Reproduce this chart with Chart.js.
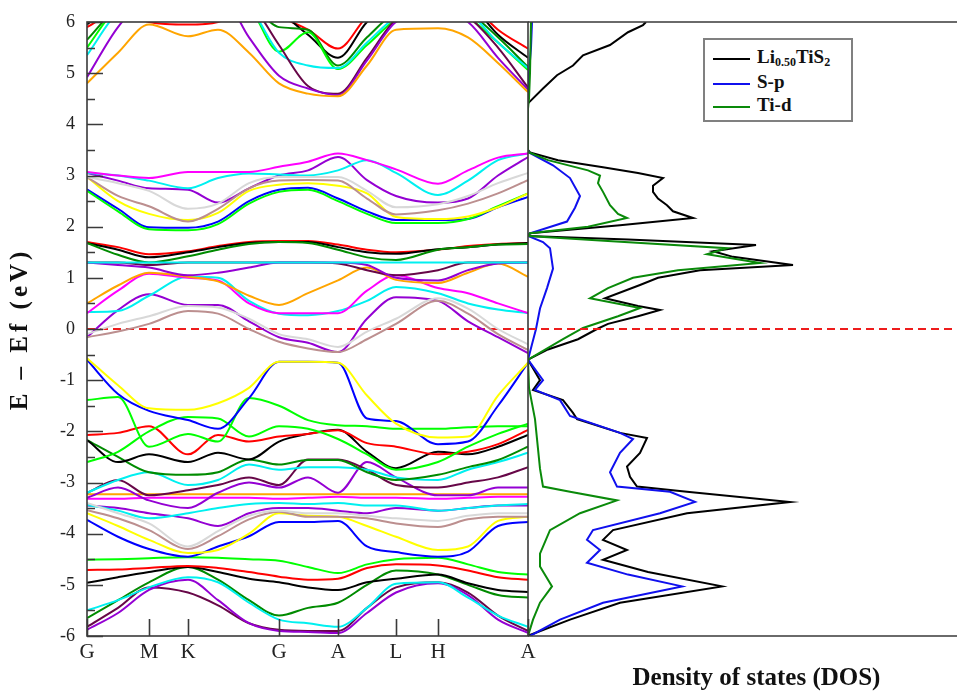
<!DOCTYPE html>
<html><head><meta charset="utf-8">
<script src="https://cdn.jsdelivr.net/npm/chart.js@4.4.0/dist/chart.umd.min.js"></script>
<style>
html,body{margin:0;padding:0;background:#fff;overflow:hidden;}
#wrap{position:relative;width:957px;height:691px;overflow:hidden;background:#fff;}
#bands{position:absolute;left:0;top:0;}
#dos{position:absolute;left:520px;top:0;}
#legend{position:absolute;left:703px;top:38px;width:146px;height:80px;border:2px solid #808080;background:#fff;font-family:"Liberation Serif",serif;font-weight:bold;font-size:19px;color:#111;}
.row{position:absolute;left:8px;height:20px;line-height:20px;white-space:nowrap;}
.sw{display:inline-block;width:37px;height:0;border-top:2.5px solid #000;vertical-align:middle;margin-right:7px;}
sub{font-size:12px;vertical-align:-3px;line-height:0;}
</style></head>
<body>
<div id="wrap">
<canvas id="dos" width="465" height="691"></canvas>
<canvas id="bands" width="540" height="691"></canvas>
<div id="legend">
 <div class="row" style="top:7px"><span class="sw" style="border-color:#000"></span>Li<sub>0.50</sub>TiS<sub>2</sub></div>
 <div class="row" style="top:32px"><span class="sw" style="border-color:#1010ee"></span>S-p</div>
 <div class="row" style="top:55px"><span class="sw" style="border-color:#0a8a0a"></span>Ti-d</div>
</div>
</div>
<script>
// ---------- k-path ----------
const kLabels = ['G','M','K','G','A','L','H','A'];
const kTicks  = [0, 62, 101, 192, 251, 309, 351, 441];
const kPath   = [0, 31, 62, 101, 131, 162, 192, 221, 251, 280, 309, 351, 381, 411, 441];
const yTickValues = [6,5,4,3,2,1,0,-1,-2,-3,-4,-5,-6];

// ---------- band energies (eV) at kPath ----------
const orangeHi  = [4.8, 5.4, 5.95, 5.72, 5.85, 5.4, 4.8, 4.6, 4.55, 5.15, 5.85, 5.88, 5.7, 5.2, 4.63];
const violetHi  = [4.92, 5.9, 6.5, 6.6, 6.6, 5.7, 4.95, 4.7, 4.57, 5.25, 6.0, 6.2, 6.0, 5.3, 4.68];
const maroonHi  = [6.4, 6.6, 6.6, 6.6, 6.6, 6.4, 5.55, 4.75, 4.6, 5.3, 6.05, 6.3, 6.1, 5.5, 4.72];
const cyanHi    = [5.35, 6.2, 6.5, 6.5, 6.5, 6.3, 5.4, 5.15, 5.1, 5.6, 6.1, 6.4, 6.2, 5.6, 5.1];
const greenHi   = [5.5, 6.3, 6.5, 6.5, 6.5, 6.3, 5.42, 5.8, 5.08, 5.55, 6.05, 6.4, 6.1, 5.6, 5.06];
const dkgreenHi = [5.65, 6.3, 6.6, 6.6, 6.6, 6.4, 5.9, 5.85, 5.15, 5.7, 6.2, 6.4, 6.2, 5.7, 5.12];
const blackHi   = [5.95, 6.4, 6.6, 6.6, 6.6, 6.5, 6.2, 5.75, 5.3, 6.0, 6.4, 6.6, 6.4, 5.75, 5.3];
const redHi     = [5.9, 6.2, 6.0, 5.95, 6.0, 6.3, 6.1, 5.85, 5.48, 6.1, 6.4, 6.6, 6.4, 5.85, 5.48];

const magentaMid = [3.07, 3.0, 2.95, 3.07, 3.07, 3.07, 3.17, 3.27, 3.43, 3.3, 3.12, 2.84, 3.1, 3.35, 3.43];
const cyanMid    = [3.05, 3.0, 2.9, 2.75, 2.95, 3.04, 3.02, 3.0, 3.1, 3.3, 3.05, 2.62, 2.9, 3.3, 3.43];
const yellowMid  = [2.97, 2.5, 2.25, 2.13, 2.27, 2.7, 2.82, 2.85, 2.8, 2.65, 2.19, 2.15, 2.2, 2.38, 2.65];
const blueMid    = [2.73, 2.35, 1.99, 1.98, 2.1, 2.5, 2.72, 2.76, 2.55, 2.3, 2.13, 2.13, 2.15, 2.38, 2.58];
const greenMid   = [2.7, 2.3, 1.95, 1.93, 2.05, 2.45, 2.68, 2.72, 2.5, 2.25, 2.07, 2.07, 2.15, 2.4, 2.65];
const silverMid  = [2.97, 2.85, 2.7, 2.35, 2.45, 2.85, 2.97, 2.97, 2.97, 2.7, 2.38, 2.44, 2.6, 2.85, 3.05];
const tanMid     = [2.97, 2.6, 2.4, 2.1, 2.35, 2.75, 2.9, 2.91, 2.9, 2.55, 2.24, 2.32, 2.45, 2.65, 2.91];
const violetMid  = [3.05, 2.9, 2.75, 2.72, 2.47, 2.75, 3.0, 3.1, 3.36, 2.91, 2.6, 2.47, 2.55, 3.0, 3.36];

const redD      = [1.7, 1.6, 1.46, 1.52, 1.62, 1.7, 1.72, 1.72, 1.65, 1.55, 1.5, 1.55, 1.62, 1.66, 1.68];
const blackD    = [1.68, 1.55, 1.4, 1.5, 1.6, 1.68, 1.7, 1.7, 1.6, 1.5, 1.47, 1.56, 1.6, 1.65, 1.68];
const dkgreenD  = [1.68, 1.45, 1.3, 1.42, 1.55, 1.66, 1.7, 1.68, 1.55, 1.4, 1.35, 1.55, 1.6, 1.65, 1.66];
const cyanFlat  = [1.3, 1.3, 1.3, 1.3, 1.3, 1.3, 1.3, 1.3, 1.3, 1.3, 1.3, 1.3, 1.3, 1.3, 1.3];
const violetD   = [1.3, 1.25, 1.2, 1.05, 1.1, 1.2, 1.3, 1.3, 1.3, 1.25, 1.0, 0.95, 1.15, 1.28, 1.3];
const maroonD   = [1.3, 1.3, 1.25, 1.3, 1.3, 1.3, 1.3, 1.3, 1.28, 1.15, 1.05, 1.15, 1.3, 1.3, 1.3];

const orangeLo  = [0.5, 0.85, 1.1, 1.02, 0.93, 0.65, 0.47, 0.7, 0.95, 1.2, 0.96, 0.9, 1.1, 1.28, 1.02];
const magentaLo = [0.31, 0.75, 1.08, 1.0, 0.95, 0.5, 0.31, 0.31, 0.31, 0.75, 1.05, 0.8, 0.7, 0.5, 0.31];
const cyanLo    = [0.33, 0.35, 0.65, 1.02, 1.0, 0.55, 0.3, 0.27, 0.35, 0.55, 0.82, 0.7, 0.5, 0.38, 0.31];
const violetLo  = [-0.16, 0.37, 0.68, 0.47, 0.47, 0.15, -0.16, -0.27, -0.45, 0.2, 0.62, 0.55, 0.15, -0.16, -0.47];
const tanLo     = [-0.16, -0.05, 0.1, 0.35, 0.3, 0.0, -0.25, -0.38, -0.45, -0.2, 0.1, 0.55, 0.3, -0.1, -0.41];
const silverLo  = [-0.1, 0.1, 0.25, 0.45, 0.42, 0.2, -0.1, -0.2, -0.35, -0.05, 0.2, 0.6, 0.4, 0.0, -0.3];

const yellowV   = [-0.57, -1.1, -1.55, -1.58, -1.45, -1.15, -0.64, -0.64, -0.66, -1.3, -1.85, -2.12, -2.1, -1.3, -0.66];
const blueV     = [-0.6, -1.27, -1.6, -1.78, -1.95, -1.35, -0.64, -0.64, -0.66, -1.75, -1.8, -2.25, -2.2, -1.5, -0.66];
const greenV1   = [-1.39, -1.33, -2.3, -2.05, -2.2, -1.35, -1.5, -1.78, -1.88, -1.9, -1.95, -1.95, -1.92, -1.9, -1.9];
const greenV2   = [-2.6, -2.4, -2.0, -1.72, -1.75, -2.1, -1.9, -1.95, -2.15, -2.45, -2.75, -2.6, -2.3, -2.05, -1.85];
const redV      = [-2.07, -2.03, -1.9, -2.45, -2.07, -2.2, -2.1, -2.05, -1.98, -2.23, -2.3, -2.45, -2.4, -2.25, -1.97];
const blackV    = [-2.17, -2.6, -2.45, -2.6, -2.42, -2.55, -2.2, -2.05, -1.97, -2.4, -2.72, -2.4, -2.45, -2.3, -2.07];
const dkgreenV  = [-2.17, -2.5, -2.8, -2.85, -2.8, -2.55, -2.65, -2.56, -2.56, -2.8, -2.95, -2.85, -2.7, -2.56, -2.3];
const cyanV     = [-3.2, -2.95, -2.8, -3.05, -2.95, -2.65, -2.75, -2.7, -2.7, -2.75, -2.9, -2.95, -2.75, -2.6, -2.42];
const maroonV   = [-3.2, -2.95, -3.25, -3.15, -3.05, -2.9, -3.05, -2.55, -2.55, -2.75, -3.05, -3.1, -3.0, -2.9, -2.7];
const violetV   = [-3.3, -3.1, -3.35, -3.5, -3.2, -3.0, -3.1, -2.9, -3.2, -2.6, -2.9, -3.25, -3.25, -3.1, -3.1];
const orangeFlat  = [-3.23, -3.23, -3.23, -3.23, -3.23, -3.23, -3.23, -3.23, -3.23, -3.23, -3.23, -3.23, -3.23, -3.23, -3.23];
const magentaFlat = [-3.32, -3.32, -3.3, -3.3, -3.3, -3.3, -3.32, -3.3, -3.28, -3.3, -3.3, -3.32, -3.3, -3.28, -3.28];
const cyanV2    = [-3.44, -3.55, -3.7, -3.6, -3.5, -3.42, -3.4, -3.42, -3.4, -3.45, -3.45, -3.55, -3.5, -3.45, -3.42];
const violetV2  = [-3.45, -3.5, -3.6, -3.7, -3.85, -3.6, -3.5, -3.5, -3.55, -3.6, -3.5, -3.55, -3.5, -3.45, -3.45];
const silverV   = [-3.4, -3.6, -3.8, -4.25, -3.95, -3.65, -3.55, -3.6, -3.6, -3.65, -3.7, -3.75, -3.65, -3.6, -3.6];
const tanV      = [-3.54, -3.7, -3.93, -4.3, -4.05, -3.72, -3.57, -3.67, -3.67, -3.7, -3.8, -3.87, -3.72, -3.67, -3.67];
const yellowL   = [-3.6, -3.85, -4.12, -4.38, -4.32, -4.0, -3.6, -3.65, -3.67, -3.85, -4.06, -4.32, -4.25, -3.75, -3.67];
const blueL     = [-3.73, -4.06, -4.3, -4.45, -4.25, -4.05, -3.77, -3.77, -3.75, -4.25, -4.36, -4.45, -4.35, -3.85, -3.77];
const greenL    = [-4.51, -4.5, -4.48, -4.46, -4.47, -4.5, -4.53, -4.65, -4.77, -4.6, -4.5, -4.47, -4.6, -4.75, -4.8];
const redL      = [-4.71, -4.7, -4.67, -4.63, -4.67, -4.75, -4.84, -4.9, -4.88, -4.67, -4.6, -4.62, -4.72, -4.85, -4.9];
const blackL    = [-4.96, -4.85, -4.75, -4.65, -4.75, -4.88, -4.95, -5.05, -5.1, -4.95, -4.88, -4.8, -4.97, -5.1, -5.14];
const cyanL     = [-5.5, -5.3, -5.05, -4.85, -4.95, -5.35, -5.68, -5.75, -5.82, -5.45, -4.98, -4.95, -5.25, -5.6, -5.82];
const dkgreenL  = [-5.65, -5.3, -4.95, -4.65, -4.9, -5.3, -5.6, -5.45, -5.35, -5.0, -4.72, -4.8, -5.0, -5.2, -5.25];
const violetL   = [-5.88, -5.55, -5.1, -4.9, -5.3, -5.75, -5.9, -5.92, -5.94, -5.55, -5.15, -4.97, -5.2, -5.68, -5.94];
const maroonL   = [-5.82, -5.45, -5.05, -5.15, -5.4, -5.75, -5.88, -5.9, -5.9, -5.45, -5.05, -4.95, -5.15, -5.6, -5.9];

// ---------- DOS (energy in eV, DOS in arbitrary units) ----------
const dosTotalE = [6.0,5.94,5.8,5.55,5.35,5.15,4.96,4.7,4.41,3.5,3.45,3.3,3.16,3.05,2.95,2.8,2.68,2.55,2.42,2.3,2.17,2.03,1.87,1.82,1.75,1.64,1.52,1.41,1.25,1.15,1.0,0.86,0.6,0.45,0.37,0.25,0.1,0.0,-0.2,-0.4,-0.6,-1.0,-1.19,-1.39,-1.64,-1.76,-2.03,-2.13,-2.42,-2.69,-2.89,-3.08,-3.18,-3.38,-3.6,-3.93,-4.12,-4.32,-4.51,-4.75,-5.03,-5.35,-5.68,-5.98,-6.0];
const dosTotal  = [11.8,11.5,10.0,8.2,5.5,4.5,2.9,1.5,0.0,0.0,0.2,3.0,7.5,11.0,13.5,12.5,12.5,13.0,13.9,14.5,16.5,9.2,0.2,0.0,10.0,22.8,18.5,20.5,26.5,17.2,13.0,11.2,7.7,11.0,13.2,11.0,8.0,6.9,5.0,2.0,0.0,1.2,0.5,3.5,4.5,4.9,9.2,11.9,11.2,9.9,10.2,10.9,15.9,26.2,15.9,8.5,7.5,9.9,7.5,12.0,19.4,9.2,4.2,0.2,0.0];
const dosSpE = [6.0,5.5,5.0,4.5,3.5,3.45,3.2,2.95,2.6,2.37,2.1,1.87,1.82,1.7,1.58,1.18,0.8,0.4,0.0,-0.3,-0.6,-1.0,-1.19,-1.39,-1.7,-2.03,-2.15,-2.42,-2.8,-3.08,-3.18,-3.38,-3.6,-3.93,-4.12,-4.32,-4.57,-4.8,-5.03,-5.35,-5.68,-6.0];
const dosSp  = [0.4,0.3,0.1,0.0,0.0,0.1,2.5,4.2,5.2,4.7,3.9,0.2,0.0,1.5,2.2,2.5,1.9,1.2,0.8,0.4,0.0,1.5,0.7,3.2,4.2,9.2,10.5,9.2,8.2,8.9,14.2,16.7,13.2,6.5,5.9,7.2,5.9,10.0,15.4,7.5,3.2,0.2];
const dosTidE = [6.0,5.0,4.5,4.3,3.5,3.45,3.3,3.1,3.0,2.85,2.68,2.42,2.25,2.17,2.0,1.87,1.82,1.72,1.58,1.46,1.29,1.15,1.0,0.8,0.6,0.41,0.25,0.02,-0.2,-0.6,-1.15,-1.76,-2.73,-3.08,-3.18,-3.35,-3.6,-3.93,-4.39,-4.64,-5.03,-5.35,-5.68,-6.0];
const dosTid  = [0.3,0.2,0.1,0.0,0.0,0.1,2.0,6.0,7.2,7.0,7.5,8.2,9.0,9.9,6.0,0.2,0.0,8.0,19.9,17.9,23.2,15.0,10.5,8.0,6.2,11.2,9.0,5.5,3.5,0.0,0.1,0.7,1.2,1.5,4.2,8.9,5.2,2.2,1.2,1.2,2.4,1.2,0.5,0.0];

// ---------- styles ----------
const C = {orange:'#ffa500', violet:'#9400d3', maroon:'#670748', cyan:'#00f0f0', green:'#00ff00',
  dkgreen:'#008b00', black:'#000000', red:'#ff0000', magenta:'#ff00ff', yellow:'#ffff00',
  blue:'#0000ff', silver:'#d8d8d8', tan:'#bc8f8f', indigo:'#7221bc'};
const bandList = [
 [silverMid,'silver'],[tanMid,'tan'],[silverLo,'silver'],[tanLo,'tan'],[silverV,'silver'],[tanV,'tan'],
 [orangeHi,'orange'],[violetHi,'violet'],[maroonHi,'maroon'],[cyanHi,'cyan'],[greenHi,'green'],[dkgreenHi,'dkgreen'],[blackHi,'black'],[redHi,'red'],
 [magentaMid,'magenta'],[cyanMid,'cyan'],[yellowMid,'yellow'],[greenMid,'green'],[blueMid,'blue'],[violetMid,'violet'],
 [cyanFlat,'cyan'],[dkgreenD,'dkgreen'],[blackD,'black'],[redD,'red'],[violetD,'violet'],[maroonD,'maroon'],
 [orangeLo,'orange'],[magentaLo,'magenta'],[cyanLo,'cyan'],[violetLo,'violet'],
 [yellowV,'yellow'],[blueV,'blue'],[greenV1,'green'],[greenV2,'green'],[redV,'red'],[blackV,'black'],[dkgreenV,'dkgreen'],
 [cyanV,'cyan'],[maroonV,'maroon'],[violetV,'violet'],[orangeFlat,'orange'],[magentaFlat,'magenta'],[cyanV2,'cyan'],[violetV2,'violet'],
 [yellowL,'yellow'],[blueL,'blue'],[greenL,'green'],[redL,'red'],[blackL,'black'],[cyanL,'cyan'],[dkgreenL,'dkgreen'],[violetL,'violet'],[maroonL,'maroon']
];

const serif = '"Liberation Serif", "Times New Roman", serif';
const fermiStyle = {borderColor:'#ee1c1c', borderWidth:2.2, borderDash:[8,5], pointRadius:0, tension:0, fill:false};

// letter-spaced axis titles
function spacedTitle(px){
  return s => {
    if (s._spaced) return;
    const orig = s.drawTitle.bind(s);
    s.drawTitle = function(a){ const c=this.ctx; const p=c.letterSpacing; c.letterSpacing=px+'px'; orig(a); c.letterSpacing=p; };
    s._spaced = true;
  };
}

const bandDatasets = bandList.map(([arr,col]) => ({
  data: kPath.map((k,i)=>({x:k, y:arr[i]})),
  borderColor: C[col], borderWidth: 2, pointRadius: 0, cubicInterpolationMode:'monotone', fill:false
}));
bandDatasets.push(Object.assign({data:[{x:kPath[0],y:0},{x:kPath[kPath.length-1],y:0}]}, fermiStyle));

const bandFrame = {
  id:'bandFrame',
  afterDatasetsDraw(chart){
    const {ctx, chartArea:a, scales:{x,y}} = chart;
    ctx.save();
    ctx.strokeStyle='#3a3a3a'; ctx.lineWidth=1.6;
    ctx.strokeRect(a.left, a.top, a.right-a.left, a.bottom-a.top);
    ctx.beginPath();
    kTicks.forEach(v=>{const px=Math.round(x.getPixelForValue(v))+0.5; ctx.moveTo(px,a.bottom); ctx.lineTo(px,a.bottom-17);});
    for(let e=-6;e<=6;e+=0.5){
      const py=Math.round(y.getPixelForValue(e))+0.5;
      const len = Number.isInteger(e)?16:8;
      ctx.moveTo(a.left,py); ctx.lineTo(a.left+len,py);
    }
    ctx.stroke(); ctx.restore();
  }
};

new Chart(document.getElementById('bands'), {
  type:'line',
  data:{datasets:bandDatasets},
  options:{
    responsive:false, animation:false, devicePixelRatio:1,
    layout:{padding:{left:0,top:22,right:12,bottom:0}},
    plugins:{legend:{display:false}, tooltip:{enabled:false}},
    scales:{
      x:{type:'linear', min:0, max:441,
        afterBuildTicks:s=>{ s.ticks = kTicks.map(v=>({value:v})); },
        afterFit:s=>{ s.height = 55; },
        grid:{display:false}, border:{display:false},
        ticks:{autoSkip:false, maxRotation:0, padding:-4, color:'#222',
          font:{family:serif,size:21}, callback:(v,i)=>kLabels[i]}
      },
      y:{type:'linear', min:-6, max:6,
        afterBuildTicks:s=>{ s.ticks = yTickValues.map(v=>({value:v})); },
        afterFit:s=>{ s.width = 87; },
        afterUpdate: spacedTitle(4),
        grid:{display:false}, border:{display:false},
        ticks:{padding:4, color:'#222', font:{family:serif,size:18}},
        title:{display:true, text:'E – Ef (eV)', color:'#111', padding:{top:6,bottom:0},
          font:{family:serif,size:25,weight:'bold'}}
      }
    }
  },
  plugins:[bandFrame]
});

// ---------- DOS chart ----------
const pairs = (E,V)=>E.map((e,i)=>({x:V[i], y:e}));
const dosFrame = {
  id:'dosFrame',
  afterDatasetsDraw(chart){
    const {ctx, chartArea:a} = chart;
    ctx.save(); ctx.strokeStyle='#3a3a3a'; ctx.lineWidth=1.6;
    ctx.beginPath();
    ctx.moveTo(a.left,a.top); ctx.lineTo(a.right,a.top);
    ctx.moveTo(a.left,a.bottom); ctx.lineTo(a.right,a.bottom);
    ctx.stroke(); ctx.restore();
  }
};
new Chart(document.getElementById('dos'), {
  type:'line',
  data:{datasets:[
    Object.assign({data:[{x:0,y:0},{x:45.7,y:0}]}, fermiStyle),
    {label:'Ti-d', data:pairs(dosTidE,dosTid), borderColor:'#0a8a0a', borderWidth:2, pointRadius:0, tension:0, fill:false},
    {label:'S-p', data:pairs(dosSpE,dosSp), borderColor:'#1010ee', borderWidth:2, pointRadius:0, tension:0, fill:false},
    {label:'Li0.50TiS2', data:pairs(dosTotalE,dosTotal), borderColor:'#000000', borderWidth:2, pointRadius:0, tension:0, fill:false}
  ]},
  options:{
    responsive:false, animation:false, devicePixelRatio:1,
    layout:{padding:{left:8,top:22,right:0,bottom:0}},
    plugins:{legend:{display:false}, tooltip:{enabled:false}},
    scales:{
      x:{type:'linear', min:0, max:45.7,
        afterFit:s=>{ s.height = 55; },
        grid:{display:false}, border:{display:false},
        ticks:{display:false},
        title:{display:true, text:'Density of states (DOS)', color:'#111', padding:{top:0,bottom:-3},
          font:{family:serif,size:25,weight:'bold'}}
      },
      y:{type:'linear', min:-6, max:6, display:false}
    }
  },
  plugins:[dosFrame]
});
</script>
</body></html>
